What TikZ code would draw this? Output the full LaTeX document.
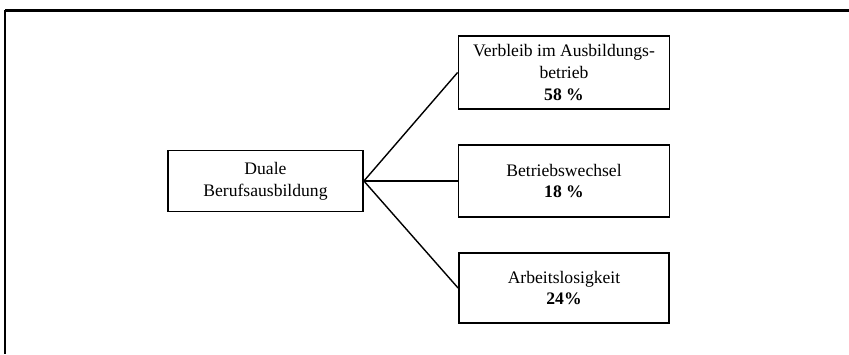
\documentclass[tikz,border=0pt]{standalone}
\usepackage{fontspec}
\setmainfont{Liberation Serif}
\usepackage{tikz}

\begin{document}
\begin{tikzpicture}[x=1pt, y=1pt,
		outcome/.style={rectangle, draw, line width=1.8pt, minimum width=211pt, minimum height=72pt, align=center, inner sep=2pt},
		link/.style={line width=1.4pt}]
		\useasboundingbox (0,0) rectangle (849,-354);
		\fontsize{17.6}{21.6}\selectfont
		
		% frame (open at the right and at the bottom)
		\coordinate (frametop) at (849,-10);
		\coordinate (framecorner) at (5,-10);
		\coordinate (framefoot) at (5,-354);
		\draw [line width=3pt] (frametop) -- (framecorner);
		\draw [line width=2.4pt] (framecorner) -- (framefoot);
		
		\node (rectdual) [rectangle, draw, line width=1.8pt, minimum width=195pt, minimum height=61pt, align=center] at (265.5,-181) {Duale\\Berufsausbildung};
		
		\node (rectstay) [outcome, minimum height=73pt] at (564,-72.5) {Verbleib im Ausbildungs-\\betrieb\\\textbf{58 \%}};
		
		\node (rectchange) [outcome] at (564,-181) {Betriebswechsel\\\textbf{18 \%}};
		
		\node (rectjobless) [outcome, minimum width=210pt, minimum height=70pt] at (564,-288) {Arbeitslosigkeit\\\textbf{24\%}};
		
		\draw [link] (rectdual.east) -- (rectstay.west);
		\draw [link] (rectdual.east) -- (rectchange.west);
		\draw [link] (rectdual.east) -- (rectjobless.west);
		
\end{tikzpicture}
\end{document}
